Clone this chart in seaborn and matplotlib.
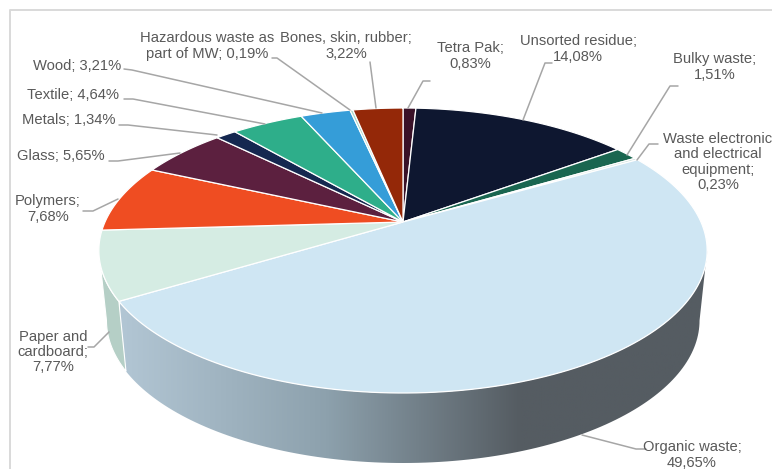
import numpy as np
import matplotlib
matplotlib.use('Agg')
import matplotlib.pyplot as plt
import seaborn as sns
from matplotlib.colors import LinearSegmentedColormap
from matplotlib.patches import Polygon
from matplotlib.path import Path
from matplotlib.transforms import Affine2D, Transform

categories = ['Tetra Pak', 'Unsorted residue', 'Bulky waste',
              'Waste electronic and electrical equipment', 'Organic waste',
              'Paper and cardboard', 'Polymers', 'Glass', 'Metals', 'Textile',
              'Wood', 'Hazardous waste as part of MW', 'Bones, skin, rubber']
shares = [0.83, 14.08, 1.51, 0.23, 49.65, 7.77, 7.68, 5.65, 1.34, 4.64, 3.21, 0.19, 3.22]
colors = ['#3a1228', '#0e1730', '#1a6650', '#c8ddd8', '#cfe6f3', '#d5ece3', '#ef4d22',
          '#5c203f', '#152850', '#2eae8a', '#359dd8', '#a8d8c8', '#942808']
label_texts = ['Tetra Pak;\n0,83%', 'Unsorted residue;\n14,08%', 'Bulky waste;\n1,51%',
               'Waste electronic\nand electrical\nequipment;\n0,23%', 'Organic waste;\n49,65%',
               'Paper and\ncardboard;\n7,77%', 'Polymers;\n7,68%', 'Glass; 5,65%',
               'Metals; 1,34%', 'Textile; 4,64%', 'Wood; 3,21%',
               'Hazardous waste as\npart of MW; 0,19%', 'Bones, skin, rubber;\n3,22%']

# layout in image pixels, same order as categories
label_pos = [(470, 56), (578, 49), (715, 67), (718, 162), (692, 455), (53, 352), (48, 209),
             (61, 156), (69, 120), (73, 95), (77, 66), (207, 46), (346, 46)]
leaders = [[(430, 81), (423, 81), (408, 108)],
           [(552, 63), (545, 63), (523, 120)],
           [(678, 86), (670, 86), (627, 155)],
           [(658, 144), (649, 144), (637, 160)],
           [(646, 449), (636, 449), (582, 435)],
           [(88, 347), (94, 347), (109, 332)],
           [(83, 211), (93, 211), (118, 199)],
           [(109, 161), (118, 161), (180, 153)],
           [(119, 125), (128, 125), (217, 135)],
           [(124, 99), (133, 99), (265, 124)],
           [(124, 69), (132, 70), (322, 113)],
           [(272, 58), (277, 58), (350, 110)],
           [(370, 62), (376, 108)]]

CX, CY = 403.0, 222.0
RX, RY = 298.0, 136.8
TILT = 0.2
DEPTH = 70.0
BOTTOM_SCALE = 0.975


class TiltTransform(Transform):
    # unit circle to the tilted disc, nearer edge looks bigger
    input_dims = 2
    output_dims = 2
    is_separable = False

    def transform_non_affine(self, values):
        values = np.asarray(values)
        w = 1 + TILT * values[:, 1]
        return np.column_stack((CX + RX * values[:, 0] / w, CY - RY * values[:, 1] / w))

    def transform_path_non_affine(self, path):
        flat = path.transformed(Affine2D().scale(2000)).to_polygons(closed_only=False)[0] / 2000
        return Path(self.transform_non_affine(flat))


def side_polygon(tilt, theta1, theta2):
    t = np.radians(np.linspace(theta1, theta2, 120))
    top = tilt.transform_non_affine(np.column_stack((np.cos(t), np.sin(t))))
    bottom = top.copy()
    bottom[:, 0] = CX + (bottom[:, 0] - CX) * BOTTOM_SCALE
    bottom[:, 1] += DEPTH
    return np.vstack((top, bottom[::-1]))


sns.set_theme(style='white')
plt.rcParams['font.family'] = ['Liberation Sans', 'DejaVu Sans']

fig = plt.figure(figsize=(7.72, 4.69), dpi=100)
ax = fig.add_axes([0, 0, 1, 1])

wedges, _ = ax.pie(shares, colors=colors, startangle=90, counterclock=False,
                   wedgeprops={'edgecolor': 'white', 'linewidth': 0.9})
tilt = TiltTransform()
for w in wedges:
    w.set_transform(tilt + ax.transData)
    w.set_zorder(3)

# visible rim runs between the left and right extremes of the disc
rim_right = np.degrees(np.arctan2(-TILT, np.sqrt(1 - TILT ** 2)))
rim_left = -180 - rim_right
side_cmap = LinearSegmentedColormap.from_list(
    'side', [(0, '#b2c6d4'), (0.35, '#8da1ad'), (0.68, '#555c62'), (1, '#555c62')])

organic = wedges[categories.index('Organic waste')]
org_poly = Polygon(side_polygon(tilt, max(organic.theta1, rim_left), min(organic.theta2, rim_right)),
                   closed=True, facecolor='none', edgecolor='none', transform=ax.transData)
ax.add_patch(org_poly)
img = ax.imshow(np.linspace(0, 1, 256).reshape(1, -1), cmap=side_cmap, extent=(120, 708, 469, 240),
                aspect='auto', zorder=1)
img.set_clip_path(org_poly)

paper = wedges[categories.index('Paper and cardboard')]
ax.add_patch(Polygon(side_polygon(tilt, max(paper.theta1, rim_left), min(paper.theta2, rim_right)),
                     closed=True, facecolor='#b5cfc6', edgecolor='white', linewidth=0.8, zorder=2))

# chart frame
ax.plot([9.5, 9.5, 772], [469, 10, 10], color='#d9d9d9', lw=1.4, zorder=0)

for txt, pos, pts in zip(label_texts, label_pos, leaders):
    ax.text(pos[0], pos[1], txt, ha='center', va='center', fontsize=10.6, color='#595959',
            linespacing=1.12, zorder=5)
    xs, ys = zip(*pts)
    ax.plot(xs, ys, color='#a6a6a6', lw=1.1, zorder=4, solid_capstyle='round')

ax.set_aspect('auto')
ax.set_xlim(0, 772)
ax.set_ylim(469, 0)
ax.axis('off')

plt.savefig('out.png', dpi=100)
